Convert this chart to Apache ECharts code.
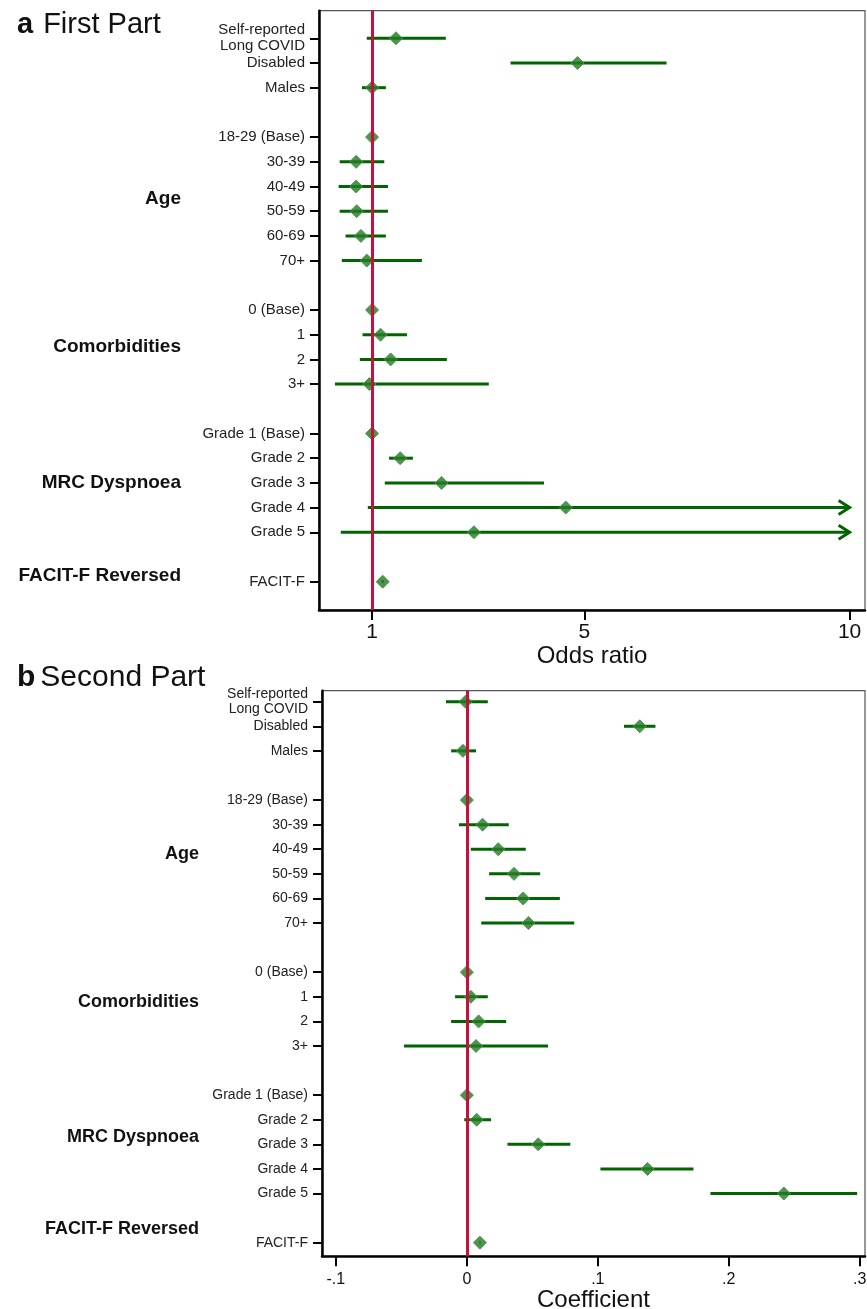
<!DOCTYPE html>
<html>
<head>
<meta charset="utf-8">
<script src="https://cdn.jsdelivr.net/npm/echarts@6/dist/echarts.min.js"></script>
<style>
  html, body { margin: 0; padding: 0; background: #fff; }
  #chart { width: 867px; height: 1309px; }
</style>
</head>
<body>
<div id="chart"></div>
<script>
// rows, top to bottom ('' = spacer row between blocks)
const rowLabels = [
  'Self-reported\nLong COVID', 'Disabled', 'Males', '',
  '18-29 (Base)', '30-39', '40-49', '50-59', '60-69', '70+', '',
  '0 (Base)', '1', '2', '3+', '',
  'Grade 1 (Base)', 'Grade 2', 'Grade 3', 'Grade 4', 'Grade 5', '',
  'FACIT-F'
];
const groupNames = ['Age', 'Comorbidities', 'MRC Dyspnoea', 'FACIT-F Reversed'];
const groupFirst = [4, 11, 16, 22];
const groupLast = [9, 14, 20, 22];

// a: odds ratios (upper limit 10 = truncated, drawn with arrow)
const orEst = [1.45, 4.87, 1.00, null, 1.00, 0.70, 0.70, 0.71, 0.79, 0.90, null, 1.00, 1.16, 1.35, 0.95, null, 1.00, 1.53, 2.31, 4.65, 2.92, null, 1.20];
const orLo  = [0.90, 3.61, 0.81, null, null, 0.39, 0.37, 0.39, 0.50, 0.43, null, null, 0.82, 0.77, 0.30, null, null, 1.32, 1.24, 0.92, 0.41, null, 1.18];
const orHi  = [2.39, 6.55, 1.26, null, null, 1.23, 1.30, 1.30, 1.26, 1.94, null, null, 1.66, 2.41, 3.20, null, null, 1.77, 4.24, 10, 10, null, 1.22];
const orTicks = [1, 5, 10];

// b: coefficients
const coefEst = [-0.001, 0.132, -0.003, null, 0, 0.012, 0.024, 0.036, 0.043, 0.047, null, 0, 0.003, 0.009, 0.007, null, 0, 0.0075, 0.0545, 0.138, 0.242, null, 0.010];
const coefLo  = [-0.016, 0.120, -0.012, null, null, -0.006, 0.003, 0.017, 0.014, 0.011, null, null, -0.009, -0.012, -0.048, null, null, -0.002, 0.031, 0.102, 0.186, null, 0.0095];
const coefHi  = [0.016, 0.144, 0.007, null, null, 0.032, 0.045, 0.056, 0.071, 0.082, null, null, 0.016, 0.030, 0.062, null, null, 0.0185, 0.079, 0.173, 0.298, null, 0.0105];
const coefTicks = [-0.1, 0, 0.1, 0.2, 0.3];

const FONT = '"Liberation Sans", Arial, sans-serif';
const GREEN = '#006400';
const RED = '#c8103c';
const labelRows = rowLabels.map((l, i) => i).filter(i => rowLabels[i] !== '');

function ciData(lo, hi) {
  const out = [];
  lo.forEach((v, i) => { if (v != null) out.push([v, hi[i], i]); });
  return out;
}
function estData(est) {
  const out = [];
  est.forEach((v, i) => { if (v != null) out.push([v, i]); });
  return out;
}
// where the bold block names sit
function groupPos(shift) {
  return groupNames.map((n, i) => (groupFirst[i] + groupLast[i]) / 2 + shift + (groupFirst[i] === groupLast[i] ? -0.25 : 0));
}

function renderCI(cap) {
  return function (params, api) {
    const a = api.coord([api.value(0), api.value(2)]);
    const b = api.coord([api.value(1), api.value(2)]);
    const line = {
      type: 'line',
      shape: { x1: a[0], y1: a[1], x2: b[0], y2: b[1] },
      style: { stroke: GREEN, lineWidth: 3 }
    };
    if (cap == null || api.value(1) < cap) return line;
    return {
      type: 'group',
      children: [line, {
        type: 'polyline',
        shape: { points: [[b[0] - 11, b[1] - 7], [b[0], b[1]], [b[0] - 11, b[1] + 7]] },
        style: { stroke: GREEN, lineWidth: 3, fill: null }
      }]
    };
  };
}

function panel(i, p) {
  const pos = groupPos(p.groupShift);
  return {
    grid: {
      left: p.left, right: p.right, top: p.top, height: p.height,
      outerBoundsMode: 'none', containLabel: false,
      show: true, borderColor: '#555', borderWidth: 1.2
    },
    xAxis: {
      gridIndex: i, type: 'value', min: p.xmin, max: p.xmax, position: 'bottom',
      splitLine: { show: false },
      axisLine: { onZero: false, lineStyle: { color: '#000', width: 2.5 } },
      axisTick: { customValues: p.ticks, length: 10, lineStyle: { color: '#000', width: 2 } },
      axisLabel: { customValues: p.ticks, margin: p.xLabelMargin, fontSize: p.xFont, color: '#111', fontFamily: FONT, formatter: p.xFmt },
      name: p.xName, nameLocation: 'middle', nameGap: p.nameGap,
      nameTextStyle: { fontSize: 24, color: '#111', fontFamily: FONT }
    },
    yAxis: [{
      gridIndex: i, type: 'value', inverse: true, min: p.ymin, max: p.ymax, position: 'left',
      splitLine: { show: false },
      axisLine: { onZero: false, lineStyle: { color: '#000', width: 2.5 } },
      axisTick: { customValues: labelRows, length: 9, lineStyle: { color: '#000', width: 2 } },
      axisLabel: {
        customValues: labelRows, margin: 14, fontSize: p.yFont, lineHeight: p.yFont + 1,
        color: '#222', fontFamily: FONT, align: 'right',
        formatter: v => rowLabels[Math.round(v)]
      }
    }, {
      gridIndex: i, type: 'value', inverse: true, min: p.ymin, max: p.ymax, position: 'left', offset: 0,
      splitLine: { show: false }, axisLine: { show: false, onZero: false },
      axisTick: { show: false },
      axisLabel: {
        customValues: pos, margin: p.groupMargin, fontSize: p.groupFont, fontWeight: 'bold',
        color: '#111', fontFamily: FONT, align: 'right',
        formatter: v => groupNames[pos.findIndex(q => Math.abs(q - v) < 1e-6)]
      }
    }],
    series: [{
      type: 'custom', xAxisIndex: i, yAxisIndex: i * 2, z: 2,
      renderItem: renderCI(p.cap), encode: { x: [0, 1], y: 2 },
      data: ciData(p.lo, p.hi)
    }, {
      type: 'line', xAxisIndex: i, yAxisIndex: i * 2, z: 3, data: [],
      markLine: {
        silent: true, symbol: 'none', label: { show: false },
        lineStyle: { color: RED, width: 3, type: 'solid' },
        data: [{ xAxis: p.ref }]
      }
    }, {
      type: 'scatter', xAxisIndex: i, yAxisIndex: i * 2, z: 4,
      symbol: 'diamond', symbolSize: 13,
      itemStyle: { color: 'rgba(38,124,38,0.82)', borderColor: 'rgba(70,150,70,0.95)', borderWidth: 1, opacity: 1 },
      data: estData(p.est)
    }]
  };
}

const a = panel(0, {
  left: 319, right: 2, top: 10.7, height: 599.3,
  xmin: 0, xmax: 10.29, ymin: -1.117, ymax: 23.146,
  ticks: orTicks, xFmt: v => String(v), xFont: 21, xLabelMargin: 12,
  xName: 'Odds ratio', nameGap: 26, yFont: 15,
  groupShift: 0, groupMargin: 138, groupFont: 19,
  est: orEst, lo: orLo, hi: orHi, cap: 10, ref: 1
});
const b = panel(1, {
  left: 322, right: 2, top: 690.7, height: 565.6,
  xmin: -0.1106, xmax: 0.304, ymin: -0.447, ymax: 22.553,
  ticks: coefTicks, xFmt: v => (v === 0 ? '0' : String(v).replace('0.', '.')), xFont: 16, xLabelMargin: 15,
  xName: 'Coefficient', nameGap: 30, yFont: 14,
  groupShift: -0.3, groupMargin: 123, groupFont: 18,
  est: coefEst, lo: coefLo, hi: coefHi, cap: null, ref: 0
});

const titleRich = {
  b: { fontSize: 29, fontWeight: 'bold', color: '#111', fontFamily: FONT },
  n: { fontSize: 29, fontWeight: 'normal', color: '#111', fontFamily: FONT },
  b2: { fontSize: 30, fontWeight: 'bold', color: '#111', fontFamily: FONT },
  n2: { fontSize: 30, fontWeight: 'normal', color: '#111', fontFamily: FONT }
};
const chart = echarts.init(document.getElementById('chart'), null, { renderer: 'canvas' });
chart.setOption({
  animation: false,
  textStyle: { fontFamily: FONT },
  title: [{
    left: 12, top: 5,
    text: '{b|a}  {n|First Part}',
    textStyle: { fontWeight: 'normal', rich: titleRich }
  }, {
    left: 12, top: 658,
    text: '{b2|b} {n2|Second Part}',
    textStyle: { fontWeight: 'normal', rich: titleRich }
  }],
  grid: [a.grid, b.grid],
  xAxis: [a.xAxis, b.xAxis],
  yAxis: a.yAxis.concat(b.yAxis),
  series: a.series.concat(b.series)
});
</script>
</body>
</html>
